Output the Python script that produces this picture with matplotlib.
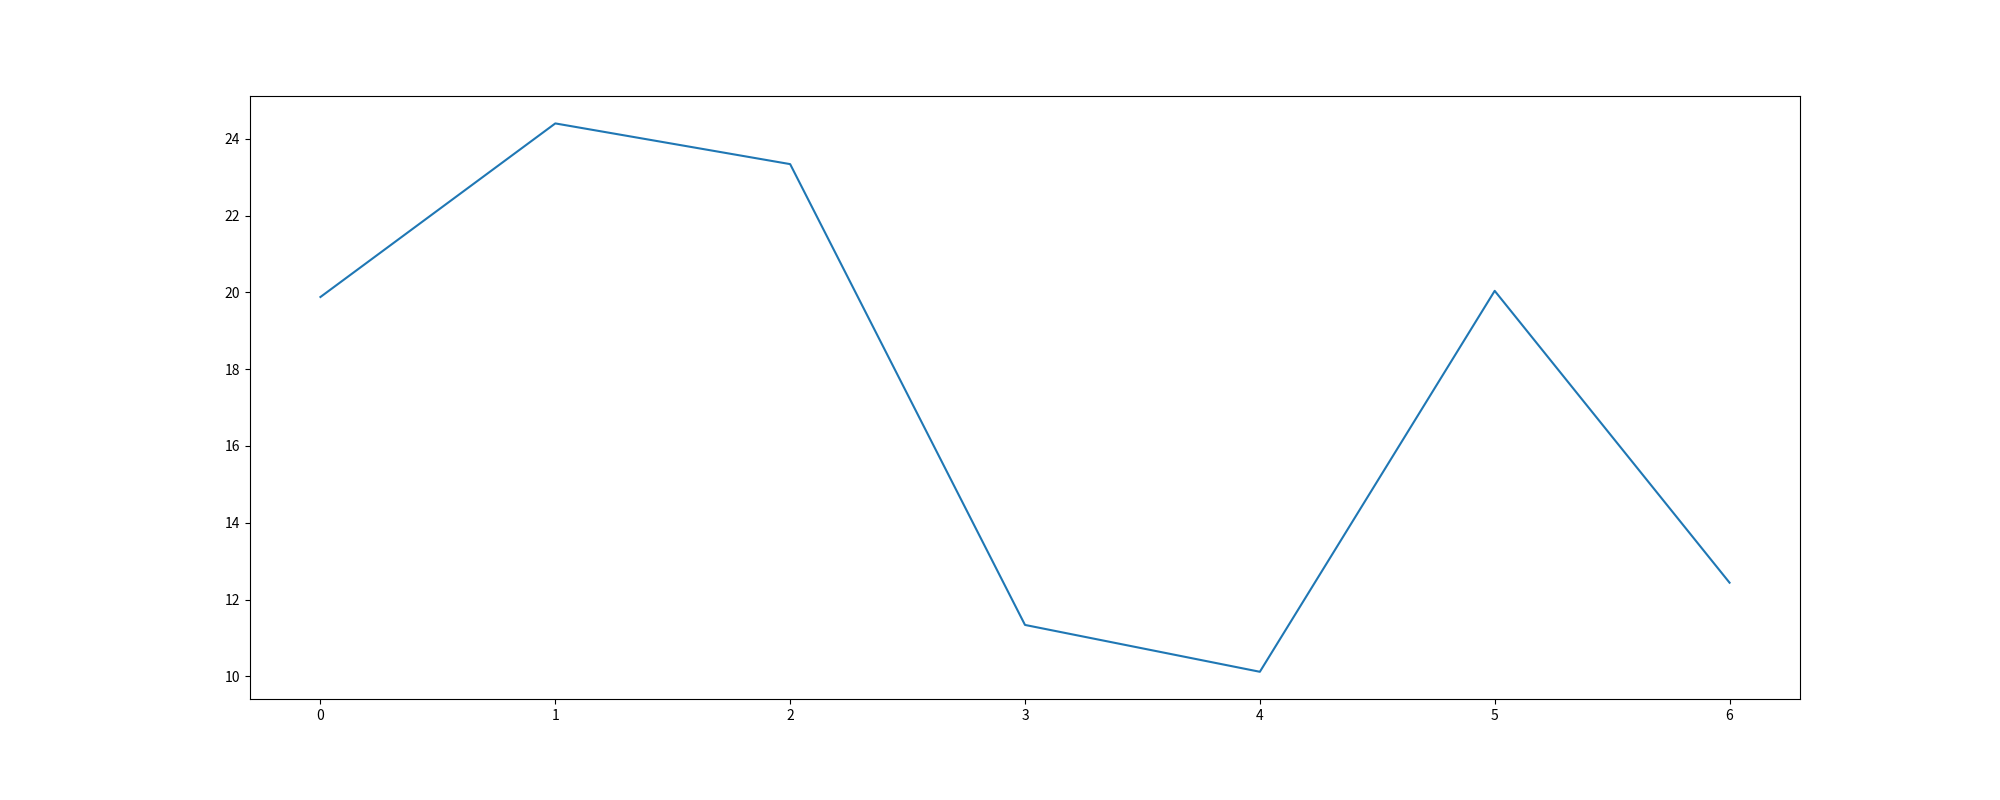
import matplotlib
matplotlib.use("Agg")
import matplotlib.pyplot as plt

plt.rcParams['font.family'] = ['Noto Sans CJK SC', 'DejaVu Sans']

x = [0, 1, 2, 3, 4, 5, 6]
y = [19.88, 24.4, 23.34, 11.34, 10.12, 20.04, 12.44]

fig = plt.figure(figsize=(20, 8), dpi=100)
fig.subplots_adjust(bottom=0.126)
plt.plot(x, y)
plt.savefig("out.png")
